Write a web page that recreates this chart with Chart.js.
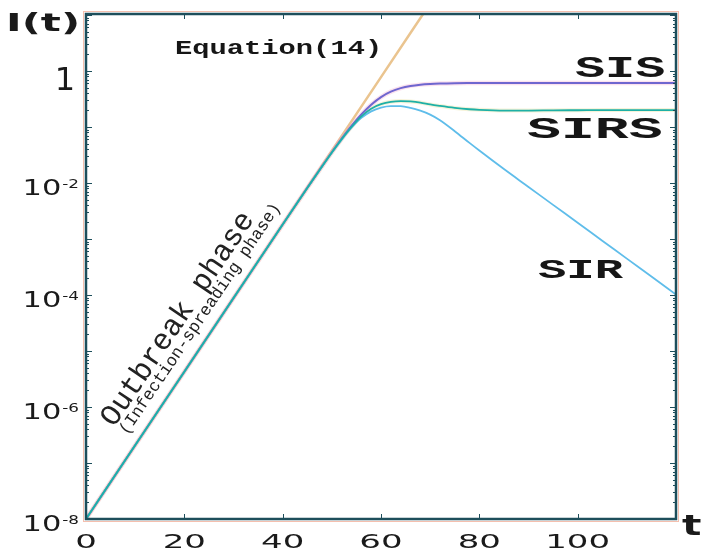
<!DOCTYPE html>
<html>
<head>
<meta charset="utf-8">
<script src="https://cdn.jsdelivr.net/npm/chart.js@4.4.1/dist/chart.umd.min.js"></script>
<style>
  html, body { margin: 0; padding: 0; background: #fff; }
  #wrap { width: 702px; height: 556px; position: relative; }
</style>
</head>
<body>
<div id="wrap"><canvas id="chart"></canvas></div>
<script>
// Time points shared by the three model curves
const tValues = [0, 10, 20, 30, 40, 45, 48, 50, 52, 54, 56, 58, 60, 62, 64, 66, 68, 70, 72, 75, 78, 80, 85, 90, 95, 100, 105, 110, 115, 120];

// I(t) (log scale)
const sisValues = [1e-8, 2.07e-7, 4.27e-6, 8.8e-5, 1.81e-3, 8.16e-3, 0.0198, 0.0354, 0.0619, 0.1045, 0.1675, 0.250, 0.342, 0.427, 0.494, 0.541, 0.570, 0.587, 0.597, 0.605, 0.608, 0.609, 0.61, 0.61, 0.61, 0.61, 0.61, 0.61, 0.61, 0.61];
const sirsValues = [1e-8, 2.07e-7, 4.27e-6, 8.8e-5, 1.81e-3, 8.1e-3, 0.0196, 0.0350, 0.0605, 0.100, 0.155, 0.212, 0.255, 0.281, 0.290, 0.286, 0.273, 0.252, 0.237, 0.219, 0.207, 0.202, 0.196, 0.196, 0.198, 0.199, 0.200, 0.200, 0.200, 0.200];
const sirValues = [1e-8, 2.07e-7, 4.27e-6, 8.8e-5, 1.81e-3, 8.1e-3, 0.0195, 0.0347, 0.0595, 0.097, 0.145, 0.190, 0.222, 0.236, 0.235, 0.219, 0.195, 0.166, 0.132, 0.0841, 0.0519, 0.0379, 0.0177, 0.00849, 0.00406, 0.00195, 0.000931, 0.000446, 0.000213, 0.000102];

// Equation (14): pure exponential growth (runs off the top)
const eqT = [0, 20, 40, 60, 70];
const eqValues = [1e-8, 4.27e-6, 1.82e-3, 0.776, 16.0];

// Axis ticks and labels
const xTicks = [0, 20, 40, 60, 80, 100];
const xTickLabels = ['0', '20', '40', '60', '80', '100'];
const yTicks = [1e-8, 1e-6, 1e-4, 1e-2, 1];
const yLabelBase = ['10', '10', '10', '10', '1'];
const yLabelExp = ['-8', '-6', '-4', '-2', ''];

const FRAME = '#1d4e5b';

const toPoints = (xs, ys) => xs.map((x, i) => ({ x: x, y: ys[i] }));

// Draw text stretched horizontally by sx
const drawText = (ctx, text, x, y, font, sx, align) => {
    ctx.save();
    ctx.translate(x, y);
    ctx.scale(sx, 1);
    ctx.font = font;
    ctx.textAlign = align || 'left';
    ctx.textBaseline = 'alphabetic';
    ctx.fillText(text, 0, 0);
    ctx.restore();
};

// Frame, inward ticks, tick labels and annotations
const framePlugin = {
    id: 'frame',
    afterDraw(chart) {
        const ctx = chart.ctx;
        const a = chart.chartArea;
        const x = chart.scales.x;
        const y = chart.scales.y;
        ctx.save();

        // faint salmon halo round the box
        ctx.strokeStyle = '#f4bfae';
        ctx.lineWidth = 1;
        ctx.strokeRect(a.left - 2.5, a.top - 2.5, a.right - a.left + 5, a.bottom - a.top + 5);

        // minor and major log ticks on left and right
        ctx.strokeStyle = FRAME;
        ctx.lineWidth = 1;
        ctx.beginPath();
        for (let e = -8; e <= 1; e++) {
            for (let m = 1; m <= 9; m++) {
                const v = m * Math.pow(10, e);
                if (v < y.min || v > y.max) continue;
                const py = Math.round(y.getPixelForValue(v)) + 0.5;
                const len = m === 1 ? 6 : 3;
                ctx.moveTo(a.left, py); ctx.lineTo(a.left + len, py);
                ctx.moveTo(a.right, py); ctx.lineTo(a.right - len, py);
            }
        }
        xTicks.forEach(t => {
            const px = Math.round(x.getPixelForValue(t)) + 0.5;
            ctx.moveTo(px, a.bottom); ctx.lineTo(px, a.bottom - 5);
            ctx.moveTo(px, a.top); ctx.lineTo(px, a.top + 5);
        });
        ctx.stroke();

        // box
        ctx.lineWidth = 2.5;
        ctx.strokeRect(a.left, a.top, a.right - a.left, a.bottom - a.top);

        // tick labels
        ctx.fillStyle = '#1a1a1a';
        xTicks.forEach((t, i) => {
            drawText(ctx, xTickLabels[i], x.getPixelForValue(t), 548, '20px "DejaVu Sans"', 1.7, 'center');
        });
        yTicks.forEach((v, i) => {
            const py = y.getPixelForValue(v);
            if (!yLabelExp[i]) {
                drawText(ctx, yLabelBase[i], 75, py + 19, '32px "DejaVu Sans"', 1.0, 'right');
                return;
            }
            ctx.font = '12px "DejaVu Sans"';
            const ew = ctx.measureText(yLabelExp[i]).width * 1.4;
            drawText(ctx, yLabelExp[i], 79, py + 5, '12px "DejaVu Sans"', 1.4, 'right');
            drawText(ctx, yLabelBase[i], 79 - ew - 1, py + 12, '21px "DejaVu Sans"', 1.45, 'right');
        });

        // axis titles
        drawText(ctx, 'I(t)', 6, 31, 'bold 24px "DejaVu Sans"', 1.75, 'left');
        drawText(ctx, 't', 682, 535, 'bold 28px "DejaVu Sans"', 1.45, 'left');

        // curve annotations
        ctx.fillStyle = '#161616';
        drawText(ctx, 'Equation(14)', 175, 54, 'bold 21px "Liberation Mono"', 1.37, 'left');
        drawText(ctx, 'SIS', 575, 77, 'bold 30px "Liberation Mono"', 1.67, 'left');
        drawText(ctx, 'SIRS', 527, 138, 'bold 29px "Liberation Mono"', 1.95, 'left');
        drawText(ctx, 'SIR', 538, 278, 'bold 27px "Liberation Mono"', 1.75, 'left');

        // rotated phase labels along the exponential line
        ctx.save();
        ctx.translate(114, 428);
        ctx.rotate(-56 * Math.PI / 180);
        ctx.font = '30px "Liberation Mono"';
        ctx.textAlign = 'left';
        ctx.fillStyle = '#222';
        ctx.fillText('Outbreak phase', 0, 0);
        ctx.font = '17px "Liberation Mono"';
        ctx.fillText('(Infection-spreading phase)', 1, 15);
        ctx.restore();

        ctx.restore();
    }
};

const setup = () => {
    const ctx = document.getElementById('chart').getContext('2d');
    new Chart(ctx, {
        type: 'line',
        data: {
            datasets: [
                { label: 'SIRS', data: toPoints(tValues, sirsValues), borderColor: '#1eb0a6', borderWidth: 1.8, order: 1 },
                { label: 'SIR', data: toPoints(tValues, sirValues), borderColor: '#5fbdea', borderWidth: 1.8, order: 2 },
                { label: 'SIS', data: toPoints(tValues, sisValues), borderColor: '#6f66cf', borderWidth: 2, order: 3 },
                { label: 'SIS halo', data: toPoints(tValues, sisValues), borderColor: 'rgba(244,170,205,0.35)', borderWidth: 4.5, order: 4 },
                { label: 'SIRS halo', data: toPoints(tValues, sirsValues), borderColor: 'rgba(226,214,130,0.3)', borderWidth: 4, order: 5 },
                { label: 'Equation(14)', data: toPoints(eqT, eqValues), borderColor: '#eac48f', borderWidth: 2.5, order: 6 }
            ]
        },
        options: {
            responsive: true,
            maintainAspectRatio: false,
            animation: false,
            layout: { padding: { left: 86, right: 26, top: 14, bottom: 37 } },
            plugins: { legend: { display: false }, tooltip: { enabled: false } },
            elements: {
                point: { radius: 0 },
                line: { cubicInterpolationMode: 'monotone', fill: false }
            },
            scales: {
                x: { type: 'linear', min: 0, max: 120, display: false },
                y: { type: 'logarithmic', min: 1e-8, max: 10.4, display: false }
            }
        },
        plugins: [framePlugin]
    });
};

document.addEventListener('DOMContentLoaded', setup);
</script>
</body>
</html>
